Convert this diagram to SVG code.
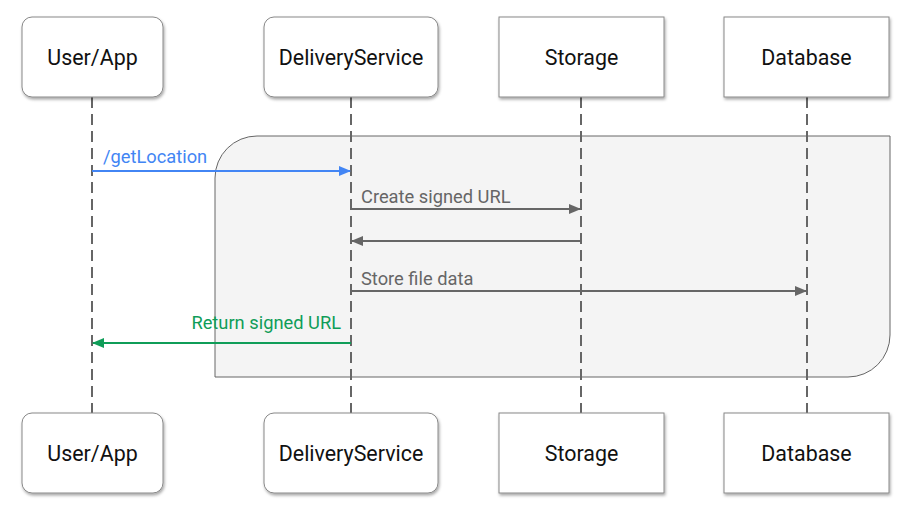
<svg xmlns="http://www.w3.org/2000/svg" width="911" height="518" viewBox="0 0 911 518">
<style>
.box{fill:#fff;stroke:#888;stroke-width:1;filter:url(#sh)}
.nt{font-family:Roboto,"Liberation Sans",sans-serif;font-size:21.4px;fill:#111;text-anchor:middle}
.life{stroke:#666;stroke-width:2;stroke-dasharray:11 6;fill:none}
.lbl{font-family:Roboto,"Liberation Sans",sans-serif;font-size:18.3px}
.gray{stroke:#666;stroke-width:2;fill:none}
</style>
<defs>
<filter id="sh" x="-10%" y="-10%" width="125%" height="130%">
<feDropShadow dx="1" dy="2" stdDeviation="1.5" flood-color="#000" flood-opacity="0.35"/>
</filter>
<marker id="ag" markerWidth="12" markerHeight="10" refX="11" refY="5" orient="auto" markerUnits="userSpaceOnUse"><path d="M0,0 L12,5 L0,10 Z" fill="#666"/></marker>
<marker id="ab" markerWidth="12" markerHeight="10" refX="11" refY="5" orient="auto" markerUnits="userSpaceOnUse"><path d="M0,0 L12,5 L0,10 Z" fill="#4285f4"/></marker>
<marker id="agr" markerWidth="12" markerHeight="10" refX="11" refY="5" orient="auto" markerUnits="userSpaceOnUse"><path d="M0,0 L12,5 L0,10 Z" fill="#0f9d58"/></marker>
</defs>
<rect width="911" height="518" fill="#fff"/>
<path id="group" d="M257 136 H890 V335 A42 42 0 0 1 848 377 H215 V178 A42 42 0 0 1 257 136 Z" fill="#f4f4f4" stroke="#666" stroke-width="1"/>
<g id="lifelines">
<line class="life" x1="92" y1="97" x2="92" y2="413"/>
<line class="life" x1="351" y1="97" x2="351" y2="413"/>
<line class="life" x1="581" y1="97" x2="581" y2="413"/>
<line class="life" x1="807" y1="97" x2="807" y2="413"/>
</g>
<g id="connectors">
<line x1="92" y1="171" x2="350" y2="171" stroke="#4285f4" stroke-width="2" marker-end="url(#ab)"/>
<text class="lbl" x="103" y="163" fill="#4285f4">/getLocation</text>
<line class="gray" x1="351" y1="209" x2="580" y2="209" marker-end="url(#ag)"/>
<text class="lbl" x="361" y="203" fill="#666">Create signed URL</text>
<line class="gray" x1="581" y1="241" x2="352" y2="241" marker-end="url(#ag)"/>
<line class="gray" x1="351" y1="291" x2="806" y2="291" marker-end="url(#ag)"/>
<text class="lbl" x="361" y="285" fill="#666">Store file data</text>
<line x1="351" y1="343" x2="93" y2="343" stroke="#0f9d58" stroke-width="2" marker-end="url(#agr)"/>
<text class="lbl" x="341" y="329" fill="#0f9d58" text-anchor="end">Return signed URL</text>
</g>
<g id="user-top"><rect class="box" x="22" y="17" width="141" height="80" rx="10"/><text class="nt" x="92.5" y="64.5">User/App</text></g>
<g id="delivery-top"><rect class="box" x="264" y="17" width="174" height="80" rx="10"/><text class="nt" x="351" y="64.5">DeliveryService</text></g>
<g id="storage-top"><rect class="box" x="499" y="17" width="165" height="80"/><text class="nt" x="581.5" y="64.5">Storage</text></g>
<g id="database-top"><rect class="box" x="724" y="17" width="165" height="80"/><text class="nt" x="806.5" y="64.5">Database</text></g>
<g id="user-bottom"><rect class="box" x="22" y="413" width="141" height="80" rx="10"/><text class="nt" x="92.5" y="460.5">User/App</text></g>
<g id="delivery-bottom"><rect class="box" x="264" y="413" width="174" height="80" rx="10"/><text class="nt" x="351" y="460.5">DeliveryService</text></g>
<g id="storage-bottom"><rect class="box" x="499" y="413" width="165" height="80"/><text class="nt" x="581.5" y="460.5">Storage</text></g>
<g id="database-bottom"><rect class="box" x="724" y="413" width="165" height="80"/><text class="nt" x="806.5" y="460.5">Database</text></g>
</svg>
